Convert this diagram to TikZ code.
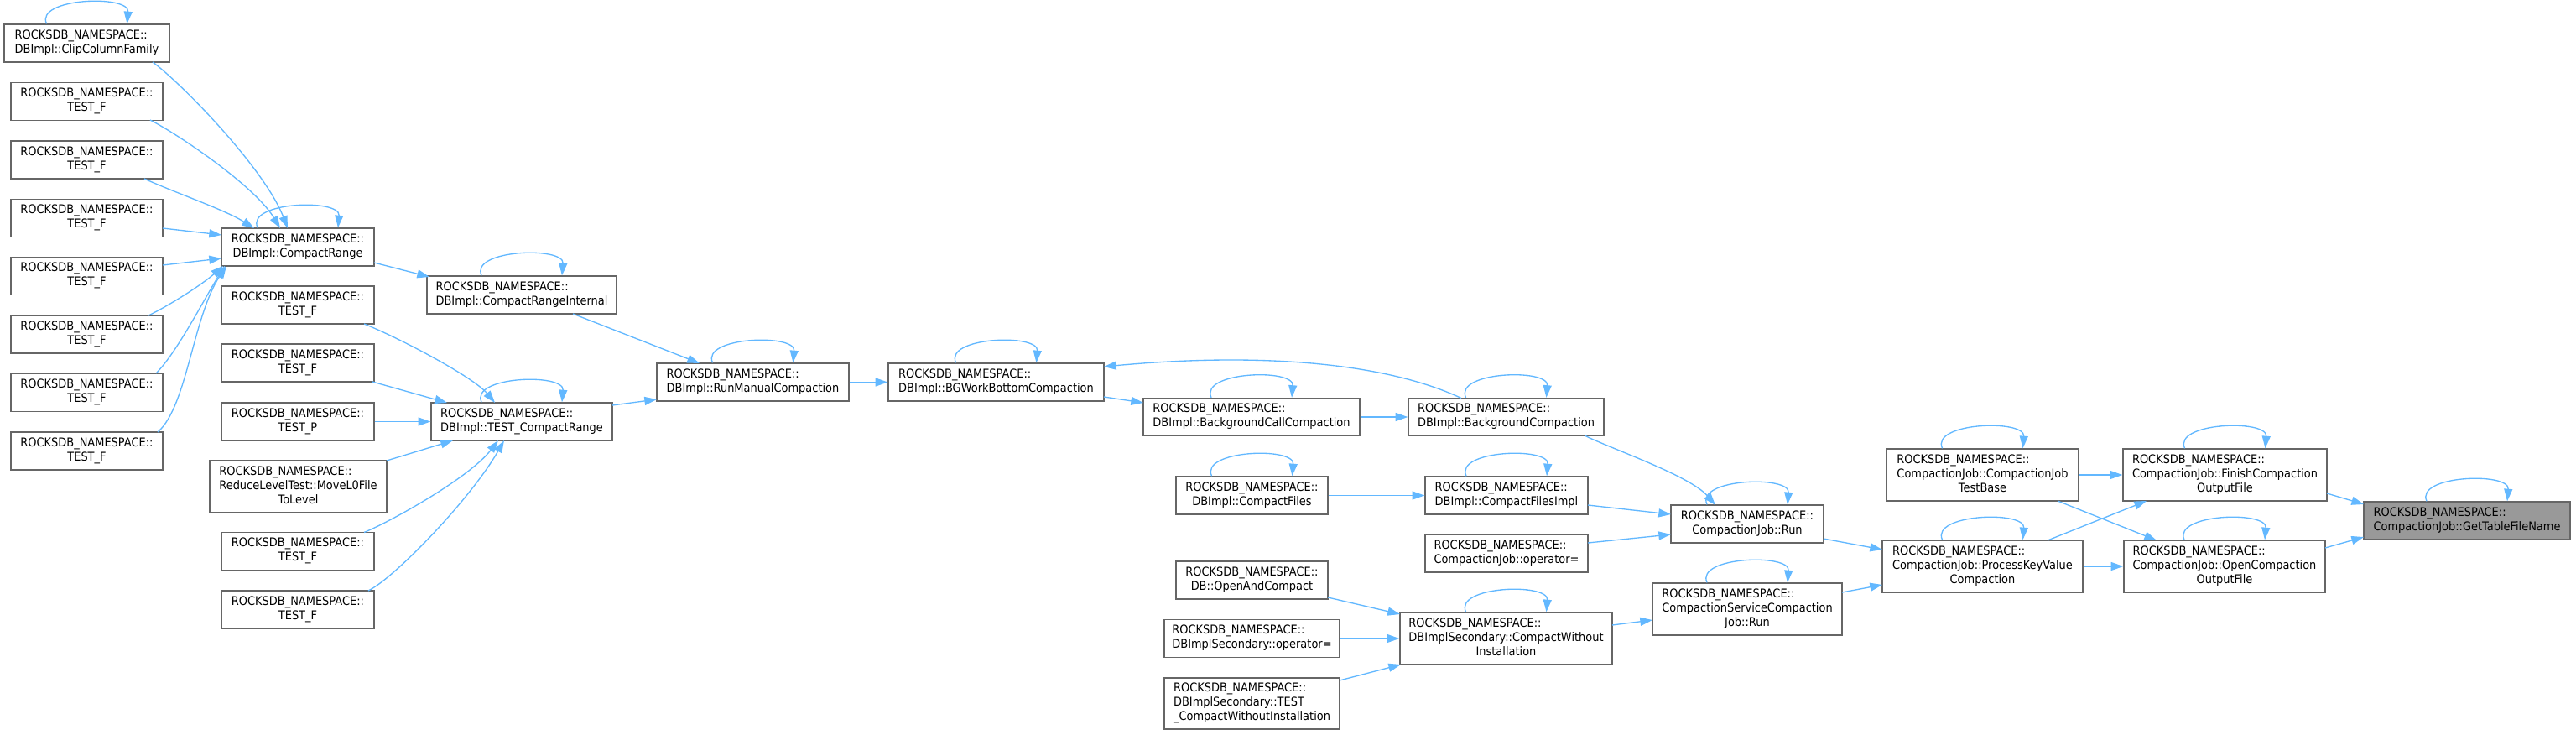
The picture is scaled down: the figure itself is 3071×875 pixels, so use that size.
\documentclass[tikz,border=0pt]{standalone}
\usepackage{fontspec}
\setmainfont{DejaVu Sans}[FakeStretch=0.9]
\usetikzlibrary{arrows.meta,calc}
\definecolor{edgeblue}{HTML}{63B8FF}
\definecolor{boxgray}{HTML}{666666}
\definecolor{fillgray}{HTML}{999999}
\newcommand\nodefont{\fontsize{10.8pt}{12.75pt}\selectfont}
\newcommand\twol[2]{\begin{tabular}{@{}l@{}}#1\\\multicolumn{1}{@{}c@{}}{#2}\end{tabular}}
\newcommand\threel[3]{\begin{tabular}{@{}l@{}}#1\\#2\\\multicolumn{1}{@{}c@{}}{#3}\end{tabular}}
\newcommand\rns{ROCKSDB\_NAMESPACE::}
\newcommand\myloop[1]{\draw[callarrow] ($(#1.north)+(-48,0)$) .. controls +(-14,-31) and +(3,-35) .. ($(#1.north)+(48,0)$);}
\tikzset{
  box/.style 2 args={draw=boxgray, line width=1pt, fill=white, rectangle, inner sep=0pt,
    font=\nodefont, minimum width=#1*0.75pt, minimum height=#2*0.75pt},
  callarrow/.style={draw=edgeblue, line width=1pt, -{Triangle[length=11pt,width=7.5pt]}}
}
\begin{document}
\begin{tikzpicture}[x=0.75pt,y=-0.75pt]
\useasboundingbox (0,0) rectangle (3071,875);
% column 1
\node[box={197}{45}] (clip) at (103.5,51.5) {\twol{\rns}{DBImpl::ClipColumnFamily}};
\node[box={181}{45}] (tf1) at (103.5,121) {\twol{\rns}{TEST\_F}};
\node[box={181}{45}] (tf2) at (103.5,190.5) {\twol{\rns}{TEST\_F}};
\node[box={181}{45}] (tf3) at (103.5,260) {\twol{\rns}{TEST\_F}};
\node[box={181}{45}] (tf4) at (103.5,329) {\twol{\rns}{TEST\_F}};
\node[box={181}{45}] (tf5) at (103.5,398.5) {\twol{\rns}{TEST\_F}};
\node[box={181}{45}] (tf6) at (103.5,468) {\twol{\rns}{TEST\_F}};
\node[box={181}{45}] (tf7) at (103.5,537.5) {\twol{\rns}{TEST\_F}};
% column 2
\node[box={182}{45}] (cr) at (355,294.5) {\twol{\rns}{DBImpl::CompactRange}};
\node[box={182}{45}] (ctf1) at (355,363.5) {\twol{\rns}{TEST\_F}};
\node[box={182}{45}] (ctf2) at (355,432.5) {\twol{\rns}{TEST\_F}};
\node[box={182}{45}] (testp) at (355,502.5) {\twol{\rns}{TEST\_P}};
\node[box={211}{62}] (reduce) at (355.5,580) {\threel{\rns}{ReduceLevelTest::MoveL0File}{ToLevel}};
\node[box={182}{45}] (ctf3) at (355,657) {\twol{\rns}{TEST\_F}};
\node[box={182}{45}] (ctf4) at (355,726.5) {\twol{\rns}{TEST\_F}};
% column 3
\node[box={226}{45}] (cri) at (622,351.5) {\twol{\rns}{DBImpl::CompactRangeInternal}};
\node[box={216}{45}] (tcr) at (622,502.5) {\twol{\rns}{DBImpl::TEST\_CompactRange}};
% column 4-5
\node[box={229}{45}] (rmc) at (897.5,455.5) {\twol{\rns}{DBImpl::RunManualCompaction}};
\node[box={257}{45}] (bgw) at (1187.5,455.5) {\twol{\rns}{DBImpl::BGWorkBottomCompaction}};
% column 6
\node[box={258}{45}] (bcc) at (1492,497) {\twol{\rns}{DBImpl::BackgroundCallCompaction}};
\node[box={181}{45}] (cf) at (1492.5,590.5) {\twol{\rns}{DBImpl::CompactFiles}};
\node[box={181}{45}] (oac) at (1492.5,691.5) {\twol{\rns}{DB::OpenAndCompact}};
\node[box={209}{45}] (dso) at (1492.5,761) {\twol{\rns}{DBImplSecondary::operator=}};
\node[box={209}{61}] (tcwi) at (1492.5,838.5) {\threel{\rns}{DBImplSecondary::TEST}{\_CompactWithoutInstallation}};
% column 7
\node[box={233}{45}] (bc) at (1795.5,497) {\twol{\rns}{DBImpl::BackgroundCompaction}};
\node[box={194}{45}] (cfi) at (1796,590.5) {\twol{\rns}{DBImpl::CompactFilesImpl}};
\node[box={194}{45}] (cjo) at (1796,659.5) {\twol{\rns}{CompactionJob::operator=}};
\node[box={253}{62}] (cwi) at (1795.5,761) {\threel{\rns}{DBImplSecondary::CompactWithout}{Installation}};
% column 8
\node[box={182}{45}] (run) at (2083,624.5) {\twol{\rns}{CompactionJob::Run}};
\node[box={226}{62}] (cscj) at (2083,726) {\threel{\rns}{CompactionServiceCompaction}{Job::Run}};
% column 9
\node[box={229}{62}] (cjtb) at (2363.5,566) {\threel{\rns}{CompactionJob::CompactionJob}{TestBase}};
\node[box={239}{62}] (pkv) at (2363.5,675) {\threel{\rns}{CompactionJob::ProcessKeyValue}{Compaction}};
% column 10
\node[box={243}{62}] (fin) at (2652.5,566) {\threel{\rns}{CompactionJob::FinishCompaction}{OutputFile}};
\node[box={240}{62}] (open) at (2652,675) {\threel{\rns}{CompactionJob::OpenCompaction}{OutputFile}};
% column 11
\node[box={246}{45}, fill=fillgray] (gtf) at (2941,620.5) {\twol{\rns}{CompactionJob::GetTableFileName}};

% edges into CompactRange
\draw[callarrow] ($(clip)+(78.5,22.5)$) .. controls +(33,24) and +(-28,-72) .. ($(cr)+(-12,-22.5)$);
\draw[callarrow] ($(tf1)+(75.5,22)$) .. controls +(35,18) and +(-30,-50) .. ($(cr)+(-21,-22.5)$);
\draw[callarrow] ($(tf2)+(68.5,22.5)$) .. controls +(40,18) and +(-35,-22) .. ($(cr)+(-52,-22.5)$);
\draw[callarrow] ($(tf3)+(90.5,12)$) -- ($(cr)+(-91,-14.5)$);
\draw[callarrow] ($(tf4)+(90.5,-13)$) -- ($(cr)+(-91,13.5)$);
\draw[callarrow] ($(tf5)+(73.5,-22.5)$) .. controls +(25,-12) and +(-25,22) .. ($(cr)+(-89,22.5)$);
\draw[callarrow] ($(tf6)+(82.5,-23)$) .. controls +(25,-25) and +(-25,40) .. ($(cr)+(-87,22.5)$);
\draw[callarrow] ($(tf7)+(84.5,-22.5)$) .. controls +(35,-30) and +(-40,60) .. ($(cr)+(-85,22.5)$);
\draw[callarrow] ($(cr)+(91,18.5)$) -- ($(cri)+(-110,-21.5)$);
\draw[callarrow] ($(cri)+(61,22.5)$) -- ($(rmc)+(-63.5,-22.5)$);
% edges into TEST_CompactRange
\draw[callarrow] ($(ctf1)+(79,22.5)$) .. controls +(45,18) and +(-25,-30) .. ($(tcr)+(-32,-22.5)$);
\draw[callarrow] ($(ctf2)+(89,22.5)$) -- ($(tcr)+(-89,-22.5)$);
\draw[callarrow] (testp.east) -- (tcr.west);
\draw[callarrow] ($(reduce)+(105.5,-31)$) -- ($(tcr)+(-82,22.5)$);
\draw[callarrow] ($(ctf3)+(79,-22.5)$) .. controls +(30,-12) and +(-35,45) .. ($(tcr)+(-28,22.5)$);
\draw[callarrow] ($(ctf4)+(84,-22.5)$) .. controls +(30,-14) and +(-40,70) .. ($(tcr)+(-21,22.5)$);
\draw[callarrow] ($(tcr)+(108,-19.5)$) -- ($(rmc)+(-114.5,20.5)$);
% middle
\draw[callarrow] (rmc.east) -- (bgw.west);
\draw[callarrow] ($(bc)+(-53.5,-22.5)$) .. controls +(-92,-43) and +(183,-17) .. ($(bgw)+(128.5,-18.5)$);
\draw[callarrow] ($(bgw)+(128.5,17.5)$) -- ($(bcc)+(-129,-17)$);
\draw[callarrow] (bcc.east) -- (bc.west);
\draw[callarrow] ($(bc)+(94.5,22.5)$) .. controls +(30,15) and +(-30,-35) .. ($(run)+(-38,-22.5)$);
\draw[callarrow] (cf.east) -- (cfi.west);
\draw[callarrow] ($(cfi)+(97,11.5)$) -- ($(run)+(-91,-11.5)$);
\draw[callarrow] ($(cjo)+(97,-12.5)$) -- ($(run)+(-91,12.5)$);
\draw[callarrow] ($(oac)+(90.5,20.5)$) -- ($(cwi)+(-126.5,-29)$);
\draw[callarrow] (dso.east) -- (cwi.west);
\draw[callarrow] ($(tcwi)+(104.5,-27.5)$) -- ($(cwi)+(-125.5,31)$);
\draw[callarrow] ($(cwi)+(126.5,-16)$) -- ($(cscj)+(-113,13)$);
% right part
\draw[callarrow] ($(run)+(91,17.5)$) -- ($(pkv)+(-119.5,-20)$);
\draw[callarrow] ($(cscj)+(113,-20)$) -- ($(pkv)+(-119.5,22)$);
\draw[callarrow] (cjtb.east) -- (fin.west);
\draw[callarrow] ($(cjtb)+(89.5,31)$) -- ($(open)+(-81,-31)$);
\draw[callarrow] ($(pkv)+(77.5,-31)$) -- ($(fin)+(-93.5,31)$);
\draw[callarrow] (pkv.east) -- (open.west);
\draw[callarrow] ($(fin)+(121.5,22)$) -- ($(gtf)+(-123,-19.5)$);
\draw[callarrow] ($(open)+(120,-22)$) -- ($(gtf)+(-123,19.5)$);
% self loops
\myloop{clip}
\myloop{cr}
\myloop{cri}
\myloop{tcr}
\myloop{rmc}
\myloop{bgw}
\myloop{bcc}
\myloop{bc}
\myloop{cf}
\myloop{cfi}
\myloop{run}
\myloop{cwi}
\myloop{cscj}
\myloop{cjtb}
\myloop{fin}
\myloop{pkv}
\myloop{open}
\myloop{gtf}
\end{tikzpicture}
\end{document}
